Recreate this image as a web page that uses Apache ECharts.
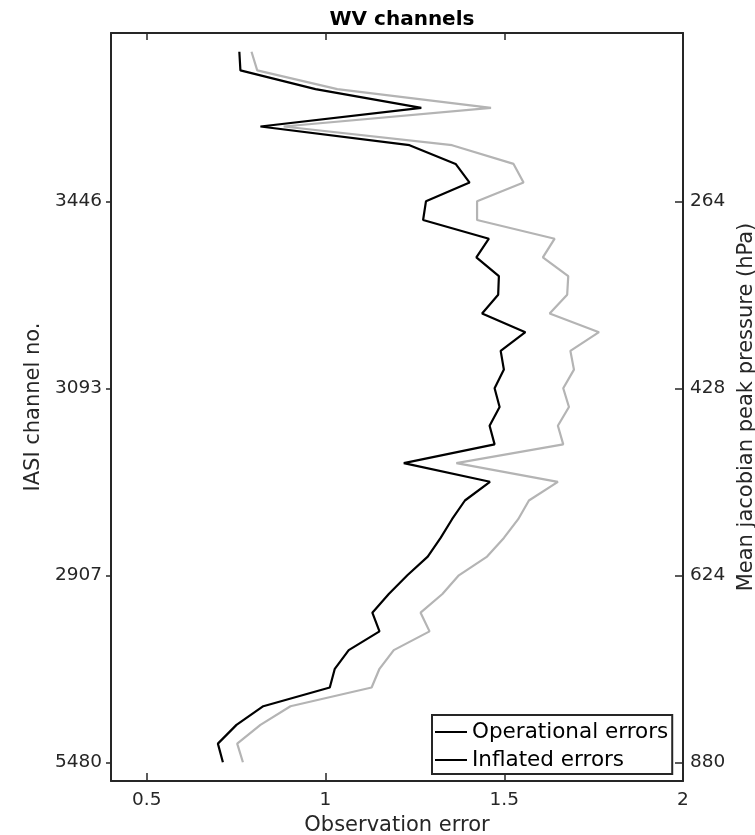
<!DOCTYPE html>
<html>
<head>
<meta charset="utf-8">
<script src="https://cdn.jsdelivr.net/npm/echarts@6/dist/echarts.min.js"></script>
<style>html,body{margin:0;padding:0;background:#fff;}#c{width:755px;height:835px;}</style>
</head>
<body>
<div id="c"></div>
<script>
// Values listed from top of the plot (highest channel position) to bottom
var operationalErrors = [0.759, 0.762, 0.972, 1.268, 0.818, 1.235, 1.364, 1.403, 1.281, 1.273,
  1.457, 1.422, 1.485, 1.483, 1.438, 1.559, 1.490, 1.499, 1.473, 1.487,
  1.459, 1.473, 1.219, 1.460, 1.390, 1.354, 1.322, 1.286, 1.229, 1.177,
  1.131, 1.151, 1.065, 1.026, 1.012, 0.826, 0.751, 0.699, 0.713];
var inflatedErrors = [0.793, 0.809, 1.033, 1.463, 0.883, 1.354, 1.526, 1.554, 1.424, 1.424,
  1.641, 1.608, 1.679, 1.676, 1.627, 1.765, 1.685, 1.695, 1.665, 1.681,
  1.650, 1.665, 1.366, 1.650, 1.569, 1.539, 1.499, 1.452, 1.373, 1.327,
  1.266, 1.291, 1.191, 1.151, 1.129, 0.902, 0.818, 0.753, 0.769];
var yTickPositions = [0, 10, 20, 30];
var leftTickLabels = ['5480', '2907', '3093', '3446'];
var rightTickLabels = ['880', '624', '428', '264'];
var xTickValues = [0.5, 1, 1.5, 2];
var xTickLabels = ['0.5', '1', '1.5', '2'];
var seriesNames = ['Operational errors', 'Inflated errors'];

function toPoints(arr) {
  var n = arr.length;
  return arr.map(function (v, i) { return [v, n - 1 - i]; });
}
function labelMap(labels) {
  return function (v) {
    var k = yTickPositions.indexOf(Math.round(v));
    return k >= 0 ? labels[k] : '';
  };
}
var FONT = 'DejaVu Sans';
var AX = '#262626';
var TICK_FS = 18.5;
var NAME_FS = 21;
var chart = echarts.init(document.getElementById('c'), null, {renderer: 'canvas'});
chart.setOption({
  animation: false,
  backgroundColor: '#fff',
  title: {
    text: 'WV channels', left: 397, top: 5, textAlign: 'center',
    textStyle: {fontFamily: FONT, fontWeight: 'bold', fontSize: 20, color: '#000'}
  },
  grid: {left: 111, right: 72, top: 33, bottom: 54, containLabel: false, outerBoundsMode: 'none'},
  legend: {
    orient: 'vertical', left: 432, top: 715,
    borderColor: AX, borderWidth: 2, padding: [6, 4, 3, 3],
    itemWidth: 32, itemHeight: 21, itemGap: 6,
    textStyle: {fontFamily: FONT, fontSize: 21.5, color: '#000', lineHeight: 21},
    data: [
      {name: seriesNames[0], icon: 'path://M0,0 L32,0 L32,2 L0,2 Z', itemStyle: {color: '#000'}},
      {name: seriesNames[1], icon: 'path://M0,0 L32,0 L32,2 L0,2 Z', itemStyle: {color: '#000'}}
    ]
  },
  xAxis: [{
    type: 'value', min: 0.4, max: 2, position: 'bottom',
    name: 'Observation error', nameLocation: 'middle', nameGap: 28,
    nameTextStyle: {fontFamily: FONT, fontSize: NAME_FS, color: AX},
    axisLine: {show: true, onZero: false, lineStyle: {color: AX, width: 2}},
    axisTick: {show: true, inside: true, length: 8, customValues: xTickValues, lineStyle: {color: AX, width: 1.5}},
    axisLabel: {show: true, margin: 10, customValues: xTickValues, fontFamily: FONT, fontSize: TICK_FS, color: AX,
      formatter: function (v) { var k = xTickValues.indexOf(v); return k >= 0 ? xTickLabels[k] : ''; }},
    splitLine: {show: false}
  }, {
    type: 'value', min: 0.4, max: 2, position: 'top',
    axisLine: {show: true, onZero: false, lineStyle: {color: AX, width: 2}},
    axisTick: {show: true, inside: true, length: 7, customValues: xTickValues, lineStyle: {color: AX, width: 1.5}},
    axisLabel: {show: false}, splitLine: {show: false}
  }],
  yAxis: [{
    type: 'value', min: -1, max: 39, position: 'left',
    name: 'IASI channel no.', nameLocation: 'middle', nameGap: 63, nameRotate: 90,
    nameTextStyle: {fontFamily: FONT, fontSize: NAME_FS, color: AX},
    axisLine: {show: true, onZero: false, lineStyle: {color: AX, width: 2}},
    axisTick: {show: true, inside: false, length: 5, customValues: yTickPositions, lineStyle: {color: AX, width: 1.5}},
    axisLabel: {show: true, margin: 9, customValues: yTickPositions, fontFamily: FONT, fontSize: TICK_FS, color: AX,
      formatter: labelMap(leftTickLabels)},
    splitLine: {show: false}
  }, {
    type: 'value', min: -1, max: 39, position: 'right',
    name: 'Mean jacobian peak pressure (hPa)', nameLocation: 'middle', nameGap: 47, nameRotate: 90,
    nameTextStyle: {fontFamily: FONT, fontSize: NAME_FS, color: AX},
    axisLine: {show: true, onZero: false, lineStyle: {color: AX, width: 2}},
    axisTick: {show: true, inside: true, length: 8, customValues: yTickPositions, lineStyle: {color: AX, width: 1.5}},
    axisLabel: {show: true, margin: 7, customValues: yTickPositions, fontFamily: FONT, fontSize: TICK_FS, color: AX,
      formatter: labelMap(rightTickLabels)},
    splitLine: {show: false}
  }],
  series: [{
    name: seriesNames[1], type: 'line', xAxisIndex: 0, yAxisIndex: 0,
    data: toPoints(inflatedErrors), symbol: 'none', z: 2,
    lineStyle: {color: '#b4b4b4', width: 2.2}, itemStyle: {color: '#b4b4b4'}
  }, {
    name: seriesNames[0], type: 'line', xAxisIndex: 0, yAxisIndex: 0,
    data: toPoints(operationalErrors), symbol: 'none', z: 3,
    lineStyle: {color: '#000', width: 2.2}, itemStyle: {color: '#000'}
  }]
});
</script>
</body>
</html>
